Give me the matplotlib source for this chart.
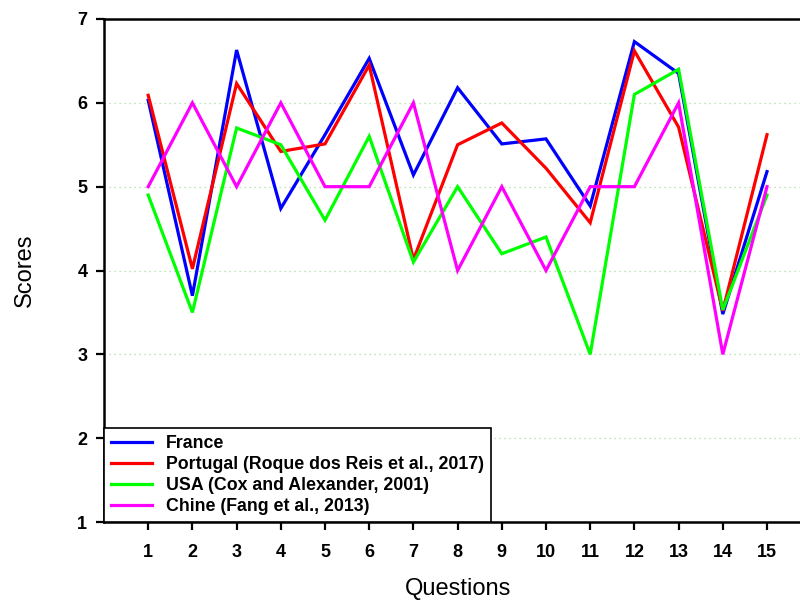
import numpy as np
import matplotlib.pyplot as plt

plt.rcParams['font.family'] = ['Liberation Sans', 'DejaVu Sans']

questions = np.arange(1, 16)
france = [6.03, 3.70, 6.63, 4.74, 5.62, 6.53, 5.14, 6.18, 5.51, 5.57, 4.77, 6.73, 6.35, 3.48, 5.18]
portugal = [6.09, 4.02, 6.23, 5.42, 5.51, 6.45, 4.13, 5.50, 5.76, 5.22, 4.57, 6.62, 5.71, 3.52, 5.62]
usa = [4.9, 3.5, 5.7, 5.5, 4.6, 5.6, 4.1, 5.0, 4.2, 4.4, 3.0, 6.1, 6.4, 3.53, 4.9]
chine = [5, 6, 5, 6, 5, 5, 6, 4, 5, 4, 5, 5, 6, 3, 5]

labels = ["France", "Portugal (Roque dos Reis et al., 2017)",
          "USA (Cox and Alexander, 2001)", "Chine (Fang et al., 2013)"]
colors = ["#0000ff", "#ff0000", "#00ff00", "#ff00ff"]

fig = plt.figure(figsize=(8, 6.01), dpi=100)
ax = fig.add_axes([0.13, 0.1314, 0.884, 0.837])

for ys, lab, c in zip([france, portugal, usa, chine], labels, colors):
    ax.plot(questions, ys, color=c, lw=2.3, label=lab, solid_joinstyle='miter')

ax.set_xlim(0, 16)
ax.set_ylim(1, 7)
ax.set_xticks(questions)
ax.set_yticks(range(1, 8))
ax.yaxis.grid(True, color='#a8dc98', linestyle=(0, (1, 3)), linewidth=0.9)
ax.set_axisbelow(True)

for s in ['left', 'top', 'bottom']:
    ax.spines[s].set_linewidth(1.8)
ax.spines['right'].set_visible(False)
ax.tick_params(direction='out', length=6, width=1.6, labelsize=13)
ax.tick_params(axis='x', pad=10)
ax.tick_params(axis='y', pad=6)
for t in ax.get_xticklabels() + ax.get_yticklabels():
    t.set_fontweight('bold')

ax.set_xlabel("Questions", fontsize=17, labelpad=12)
ax.set_ylabel("Scores", fontsize=17, labelpad=30)

leg = ax.legend(loc='lower left', bbox_to_anchor=(0, 0), borderaxespad=0,
                fancybox=False, edgecolor='black', framealpha=1,
                prop={'weight': 'bold', 'size': 12.8}, handlelength=2.3,
                handletextpad=0.8, labelspacing=0.22, borderpad=0.4)
leg.get_frame().set_linewidth(1.2)

plt.savefig("out.png", dpi=100)
